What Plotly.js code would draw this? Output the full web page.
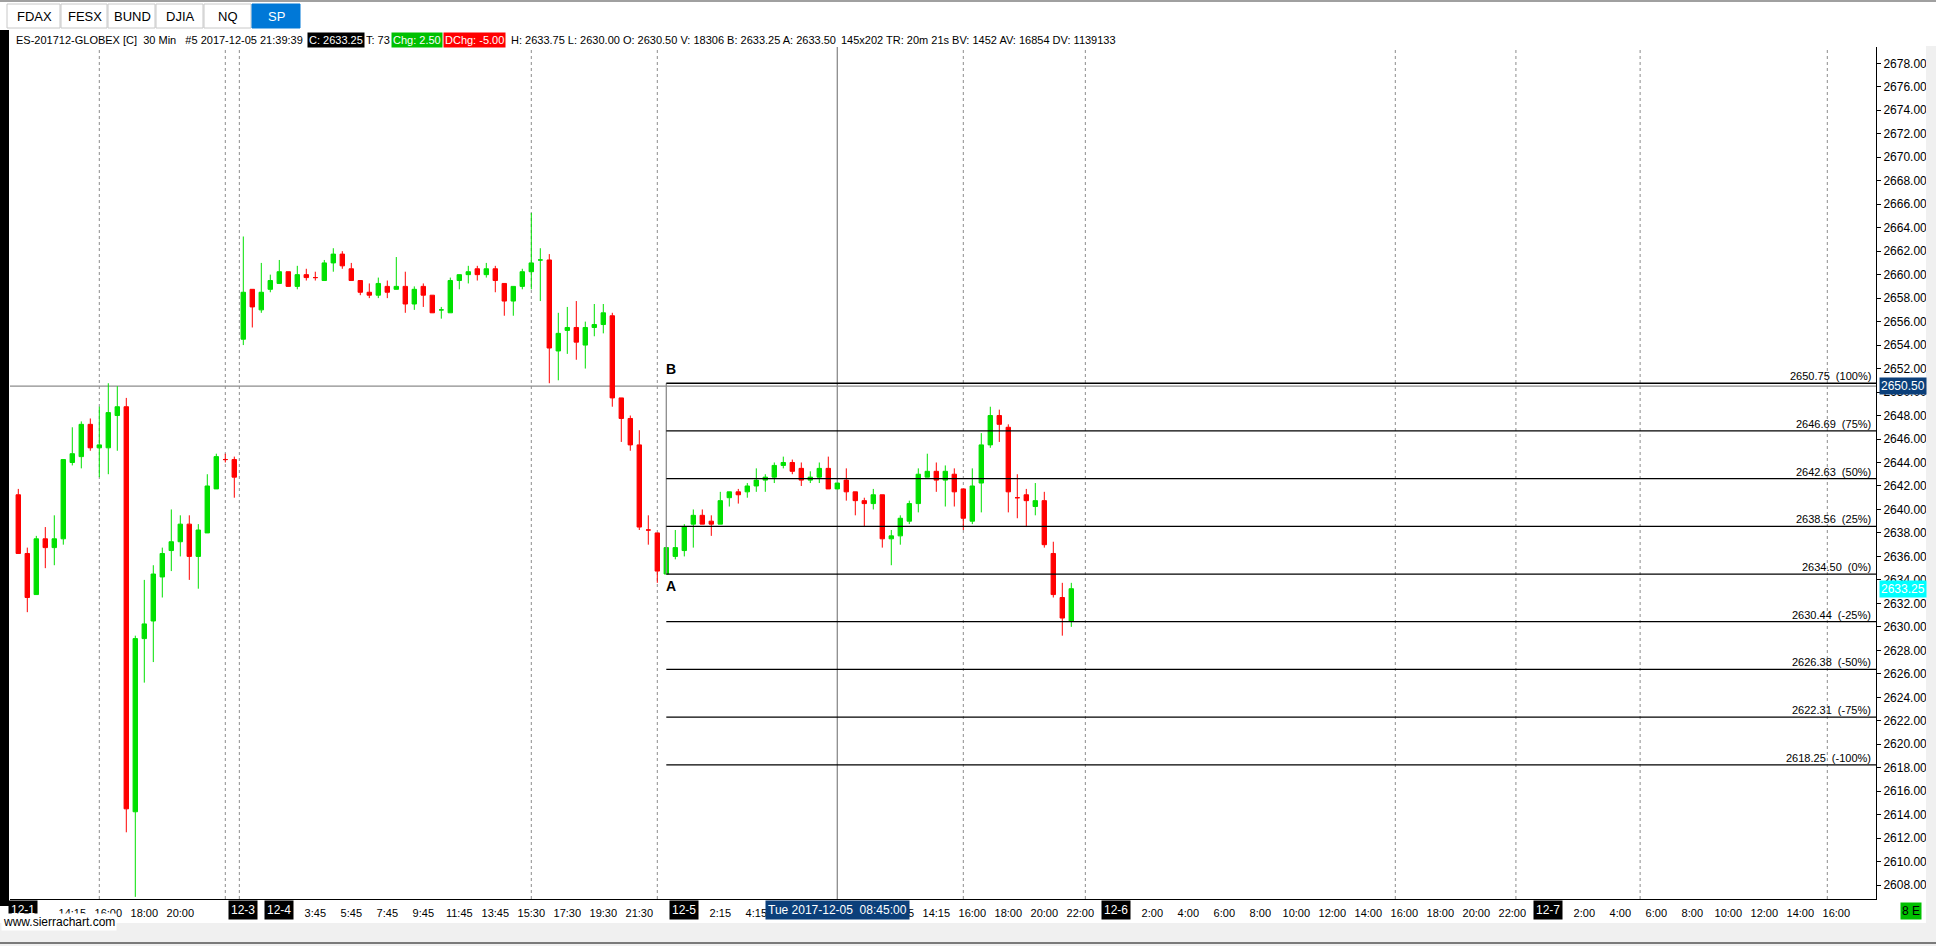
<!DOCTYPE html>
<html><head><meta charset="utf-8">
<script src="https://cdn.plot.ly/plotly-3.0.1.min.js"></script>
<style>html,body{margin:0;padding:0;background:#fff;overflow:hidden}#chart{width:1936px;height:946px}</style>
</head><body><div id="chart"></div>
<script>
// ---------- DATA (30 min bars, ES-201712-GLOBEX) ----------
const opens = [2641.25,2636.25,2632.75,2637.5,2636.75,2637.5,2644,2644.5,2647.25,2645.25,2645.25,2648,2648.75,2614.25,2629,2630.5,2634.25,2636.5,2637.25,2638.75,2636,2638,2641.75,2644.25,2644.25,
2654.5,2658.75,2657,2658.75,2659.25,2660.25,2659,2660,2659.75,2659.5,2661,2661.75,2660.5,2659.5,2658.5,2658.25,2659,2658.75,2659,2657.5,2659,2658.25,2657,2656.75,2659.5,2660,2660.5,2660,2660.5,2659.25,2657.75,2659,2660.25,2661.25,2661.25,
2653.5,2655.25,2655.5,2654,2655.5,2655.75,2656.5,2649.5,2647.75,2645.5,2638.25,2638,2634.5,2636,2636.5,2638.75,2639.5,2639,2638.75,2641,2641.5,2641.5,2642,2642.5,2642.75,2643.75,2644,2643.5,2642.5,2642.75,2643.5,2641.75,2642.5,2641.5,2640.75,2640.5,2641.25,2637.5,2637.75,2639,2640.5,2642.75,2643.25,2642.5,2643,2641.75,2639,2642.25,2645.5,2648,2647,2641,2641.25,2640.25,2640.75,2636.25,2632.5,2630.5];
const highs = [2641.75,2636.75,2637.75,2638.5,2639.5,2644.25,2647,2647.5,2647.75,2648.75,2650.75,2650.5,2649.5,2629.25,2634,2635.25,2636.75,2640,2639.5,2639.5,2638.75,2643,2644.75,2644.75,2644.5,
2663.25,2658.75,2661,2660,2661.25,2660.25,2660.75,2660.5,2660.25,2661.25,2662.25,2662,2661,2659.5,2659.25,2659.75,2659.5,2661.5,2660.25,2659,2659.25,2658.25,2657.25,2659.75,2660,2660.75,2660.75,2661,2660.75,2659.25,2659,2660.5,2665.25,2662.25,2661.75,
2656.75,2657.25,2657.75,2656,2657.5,2657.5,2656.75,2649.5,2648,2646.75,2639.5,2638,2636.75,2638.25,2638.75,2640,2640,2639.5,2641.5,2641.5,2641.75,2642.25,2643.5,2643,2644,2644.5,2644.25,2644,2643.25,2644,2644.5,2642.25,2643.5,2641.5,2641,2641.75,2641.25,2638.25,2639.5,2640.75,2643.5,2644.75,2644,2643.75,2643.5,2641.75,2643.5,2646.5,2648.75,2648.5,2647.25,2643,2641.75,2642.25,2641.5,2637.25,2633.75,2633.75];
const lows = [2636.25,2631.25,2632.75,2635,2635.25,2637,2643.75,2643.5,2645,2642.75,2643,2645,2612.5,2607,2625.25,2627,2632.5,2634.75,2636,2634,2633.25,2638,2641.75,2644,2641,
2654,2655.5,2656.75,2658.5,2659.25,2659,2658.75,2659.5,2659.5,2659.5,2660.25,2660.5,2659.5,2658.25,2658,2658,2658,2658.75,2656.75,2657,2657.25,2656.75,2656.25,2656.75,2658.75,2659.25,2659.5,2659.75,2658.5,2656.5,2656.5,2658.75,2658.75,2657.75,2650.75,
2651,2653.25,2652.75,2652,2654.75,2655,2648.75,2645.75,2645,2638.25,2637,2633.75,2634.5,2635.75,2636,2636.75,2638.75,2637.75,2638.75,2640.25,2640.5,2641,2641.5,2641.5,2642.25,2643.5,2643,2642,2642.25,2642.25,2641.75,2641.75,2640.75,2639.5,2638.5,2640,2636.75,2635.25,2637,2638.75,2639.75,2642.75,2641.5,2640.25,2640.25,2638.25,2638.75,2639.75,2645.25,2645.75,2639.75,2639.25,2638.5,2639.5,2636.75,2632.5,2629.25,2630];
const closes = [2636.25,2632.5,2637.5,2636.75,2637.5,2644.25,2644.75,2647.25,2645.25,2645.5,2648.25,2648.75,2614.5,2629,2630.25,2634.5,2636.25,2637.25,2638.75,2636,2638.25,2642,2644.5,2644.25,2642.75,
2658.5,2657.25,2658.5,2659.5,2660.25,2659,2660,2659.75,2659.75,2661,2661.75,2660.75,2659.5,2658.5,2658.25,2659.25,2658.5,2659,2657.5,2658.75,2658.25,2656.75,2657,2659.5,2660,2660.25,2660,2660.5,2659.5,2657.75,2659,2660.25,2661,2661.25,2653.75,
2655,2655.5,2654.25,2655.5,2655.75,2656.75,2649.5,2647.75,2645.5,2638.5,2638.25,2634.75,2636.75,2636.75,2638.5,2639.5,2638.75,2638.75,2640.75,2641.5,2641.25,2642,2642.5,2642.75,2643.75,2644,2643.25,2642.5,2642.75,2643.5,2641.75,2642.25,2641.5,2640.75,2640.5,2641.25,2637.5,2637.75,2639.25,2640.5,2643,2643.25,2642.5,2643.25,2641.5,2639.25,2642,2645.5,2648,2647.25,2641.5,2641,2640.75,2640.75,2637,2632.75,2630.75,2633.25];

// time-axis labels (bar index -> text)
const tickBars  = [6,10,14,18,33,37,41,45,49,53,57,61,65,69,78,82,98,102,106,110,114,118,126,130,134,138,142,146,150,154,158,162,166,174,178,182,186,190,194,198,202];
const tickTexts = ["14:15","16:00","18:00","20:00","3:45","5:45","7:45","9:45","11:45","13:45","15:30","17:30","19:30","21:30","2:15","4:15","12:15","14:15","16:00","18:00","20:00","22:00","2:00","4:00","6:00","8:00","10:00","12:00","14:00","16:00","18:00","20:00","22:00","2:00","4:00","6:00","8:00","10:00","12:00","14:00","16:00"];
const dateBars  = [0.5,25,29,74,122,170];
const dateTexts = ["12-1","12-3","12-4","12-5","12-6","12-7"];
const sessionLines = [9,23,24.56,57,71,105,118.56,153,166.4,180.2,201];
const cursorBar = 91;
const cursorText = "Tue 2017-12-05  08:45:00";
const crossPrice = 2650.50;
const lastPrice = 2633.25;

// Fibonacci projection A -> B
const fibA = 2634.50, fibB = 2650.75, fibStartBar = 72;
const fibPcts = [100,75,50,25,0,-25,-50,-75,-100];

const tabNames = ["FDAX","FESX","BUND","DJIA","NQ","SP"];
const headerMain = "ES-201712-GLOBEX [C]  30 Min   #5 2017-12-05 21:39:39";
const headerC = "C: 2633.25", headerT = "T: 73", headerChg = "Chg: 2.50", headerDChg = "DChg: -5.00";
const headerRest1 = "H: 2633.75 L: 2630.00 O: 2630.50 V: 18306 B: 2633.25 A: 2633.50";
const headerRest2 = "145x202 TR: 20m 21s BV: 1452 AV: 16854 DV: 1139133";

// ---------- LAYOUT HELPERS ----------
const W = 1936, H = 946, ML = 10, MR = 60, MT = 47, MB = 47;
const PW = W - ML - MR, PH = H - MT - MB;
const px2x = px => (px - ML) / PW;
const py2y = py => (H - MB - py) / PH;
const FONT = "'Liberation Sans', Arial, sans-serif";
const FS = 11;
const xRange = [-0.922, 206.41];
const yRange = [2606.82, 2679.39];

const GREEN = '#00e000', RED = '#ff0000';

const traces = [{
  type: 'candlestick',
  x: opens.map((_, i) => i),
  open: opens, high: highs, low: lows, close: closes,
  increasing: {line: {color: GREEN, width: 1}, fillcolor: GREEN},
  decreasing: {line: {color: RED, width: 1}, fillcolor: RED},
  whiskerwidth: 0,
  hoverinfo: 'skip',
  showlegend: false
}];

const shapes = [];
const annotations = [];

// session / day lines
sessionLines.forEach(b => shapes.push({type:'line', xref:'x', yref:'paper', x0:b, x1:b, y0:0, y1:1,
  line:{color:'#8c8c8c', width:1, dash:'dot'}, layer:'below'}));
// cursor vertical line and crosshair horizontal line
shapes.push({type:'line', xref:'x', yref:'paper', x0:cursorBar, x1:cursorBar, y0:0, y1:1, line:{color:'#8c8c8c', width:1.3}, layer:'below'});
shapes.push({type:'line', xref:'paper', yref:'y', x0:0, x1:1, y0:crossPrice, y1:crossPrice, line:{color:'#8c8c8c', width:1.3}, layer:'below'});

// Fibonacci lines
shapes.push({type:'line', xref:'x', yref:'y', x0:fibStartBar, x1:fibStartBar, y0:fibA, y1:fibB, line:{color:'#8c8c8c', width:1.3}});
fibPcts.forEach(p => {
  const lvl = fibA + (fibB - fibA) * p / 100;
  shapes.push({type:'line', xref:'x', yref:'y', x0:fibStartBar, x1:xRange[1], y0:lvl, y1:lvl, line:{color:'#000', width:1.3}});
  annotations.push({xref:'paper', yref:'y', x:px2x(1873), y:lvl, xanchor:'right', yanchor:'bottom', yshift:-1,
    text: lvl.toFixed(2) + '  (' + p + '%)', showarrow:false, font:{family:FONT, size:FS, color:'#000'}});
});
annotations.push({xref:'x', yref:'y', x:fibStartBar, y:fibB, xanchor:'left', yanchor:'bottom', xshift:-2, yshift:4, text:'<b>B</b>', showarrow:false, font:{family:FONT, size:14, color:'#000'}});
annotations.push({xref:'x', yref:'y', x:fibStartBar, y:fibA, xanchor:'left', yanchor:'top', xshift:-2, yshift:-2, text:'<b>A</b>', showarrow:false, font:{family:FONT, size:14, color:'#000'}});

// right-axis highlighted prices
annotations.push({xref:'paper', yref:'y', x:px2x(1879), y:crossPrice, xanchor:'left', yanchor:'middle', text:crossPrice.toFixed(2), showarrow:false,
  bgcolor:'#0b3f7a', borderpad:1, font:{family:FONT, size:12, color:'#fff'}});
annotations.push({xref:'paper', yref:'y', x:px2x(1879), y:lastPrice, xanchor:'left', yanchor:'middle', text:lastPrice.toFixed(2), showarrow:false,
  bgcolor:'#00ffff', borderpad:1, font:{family:FONT, size:12, color:'#fff'}});

// date boxes on the time axis
dateBars.forEach((b, i) => annotations.push({xref:'x', yref:'paper', x:b, y:py2y(910), xanchor:'center', yanchor:'middle', text:dateTexts[i], showarrow:false,
  bgcolor:'#000', borderpad:2, font:{family:FONT, size:FS+1, color:'#fff'}}));
annotations.push({xref:'x', yref:'paper', x:cursorBar, y:py2y(910), xanchor:'center', yanchor:'middle', text:cursorText, showarrow:false,
  bgcolor:'#0b3f7a', borderpad:2, font:{family:FONT, size:FS+1, color:'#fff'}});

// left black frame
shapes.push({type:'rect', xref:'paper', yref:'paper', x0:px2x(0), x1:px2x(9), y0:py2y(906), y1:py2y(30), fillcolor:'#000', line:{width:0}});
// bottom scroll area
shapes.push({type:'rect', xref:'paper', yref:'paper', x0:px2x(0), x1:px2x(1936), y0:py2y(946), y1:py2y(923), fillcolor:'#f0f0f0', line:{width:0}});
shapes.push({type:'line', xref:'paper', yref:'paper', x0:px2x(0), x1:px2x(1936), y0:py2y(943), y1:py2y(943), line:{color:'#7a7a7a', width:2}});
// right scroll area
shapes.push({type:'rect', xref:'paper', yref:'paper', x0:px2x(1926), x1:px2x(1936), y0:py2y(923), y1:py2y(46), fillcolor:'#f0f0f0', line:{width:0}});
annotations.push({xref:'paper', yref:'paper', x:px2x(1), y:py2y(922), xanchor:'left', yanchor:'middle', text:'www.sierrachart.com', showarrow:false,
  bgcolor:'#fff', borderpad:1, font:{family:FONT, size:FS+1, color:'#000'}});
annotations.push({xref:'paper', yref:'paper', x:px2x(1911), y:py2y(911), xanchor:'center', yanchor:'middle', text:'8 E', showarrow:false,
  bgcolor:'#00c000', borderpad:1, font:{family:FONT, size:FS+1, color:'#000'}});

// tabs
shapes.push({type:'line', xref:'paper', yref:'paper', x0:px2x(0), x1:px2x(1936), y0:py2y(1), y1:py2y(1), line:{color:'#a0a0a0', width:2}});
const tabEdges = [7,61,108,156,204,252,301];
tabNames.forEach((t, i) => {
  const sel = i === tabNames.length - 1;
  shapes.push({type:'rect', xref:'paper', yref:'paper', x0:px2x(tabEdges[i]), x1:px2x(tabEdges[i+1]-1), y0:py2y(28), y1:py2y(4),
    fillcolor: sel ? '#0078d7' : '#fff', line:{color: sel ? '#0078d7' : '#c8c8c8', width:1}});
  annotations.push({xref:'paper', yref:'paper', x:px2x((tabEdges[i] + tabEdges[i+1]) / 2), y:py2y(16), xanchor:'center', yanchor:'middle', text:t, showarrow:false,
    font:{family:FONT, size:13, color: sel ? '#fff' : '#000'}});
});

// header line
const hy = py2y(40);
const hdr = (text, px, opt) => annotations.push(Object.assign({xref:'paper', yref:'paper', x:px2x(px), y:hy, xanchor:'left', yanchor:'middle', text, showarrow:false,
  borderpad:1, font:{family:FONT, size:FS, color:'#000'}}, opt || {}));
hdr(headerMain, 14);
hdr(headerC, 307, {bgcolor:'#000', font:{family:FONT, size:FS, color:'#fff'}});
hdr(headerT, 364);
hdr(headerChg, 391, {bgcolor:'#00c000', font:{family:FONT, size:FS, color:'#fff'}});
hdr(headerDChg, 443, {bgcolor:'#ff0000', font:{family:FONT, size:FS, color:'#fff'}});
hdr(headerRest1, 509);
hdr(headerRest2, 839);

const layout = {
  width: W, height: H,
  margin: {l: ML, r: MR, t: MT, b: MB, pad: 0},
  paper_bgcolor: '#fff', plot_bgcolor: '#fff',
  showlegend: false,
  boxgap: 0.3,
  xaxis: {
    range: xRange, type: 'linear', fixedrange: true,
    rangeslider: {visible: false},
    showgrid: false, zeroline: false,
    showline: true, linecolor: '#000', linewidth: 1,
    tickmode: 'array', tickvals: tickBars, ticktext: tickTexts,
    ticks: '', ticklabelstandoff: 4,
    tickfont: {family: FONT, size: FS, color: '#000'}
  },
  yaxis: {
    range: yRange, side: 'right', fixedrange: true,
    showgrid: false, zeroline: false,
    showline: true, linecolor: '#000', linewidth: 1,
    tickmode: 'linear', tick0: 2608, dtick: 2, tickformat: '.2f',
    ticks: 'outside', ticklen: 4, tickcolor: '#000', tickwidth: 1,
    tickfont: {family: FONT, size: 12, color: '#000'}
  },
  shapes, annotations
};

Plotly.newPlot('chart', traces, layout, {staticPlot: true, displayModeBar: false});
</script>
</body></html>
